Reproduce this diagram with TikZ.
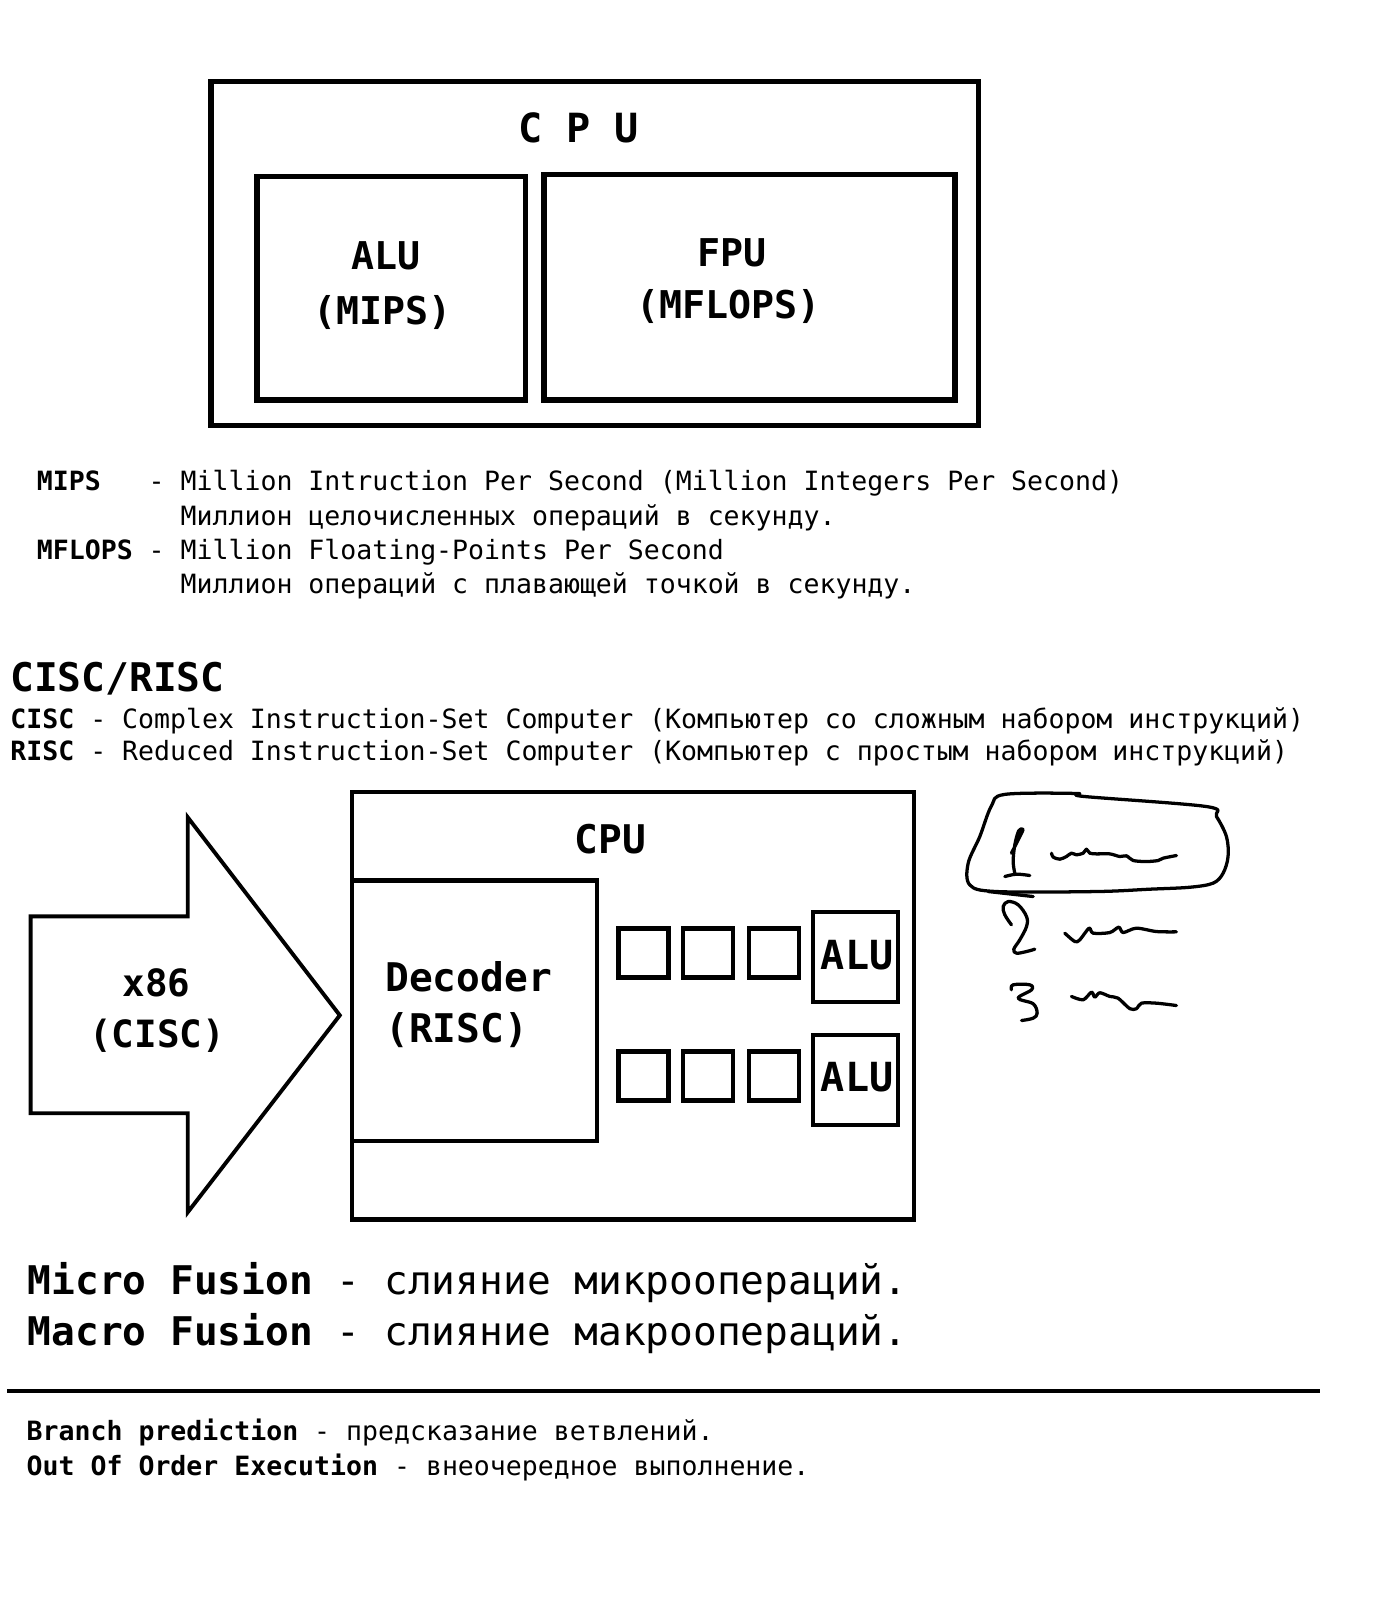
\documentclass[tikz,border=0pt]{standalone}
\usepackage{fontspec}
\newfontfamily\dmono{DejaVu Sans Mono}
\begin{document}
\frenchspacing
\begin{tikzpicture}[x=1pt,y=-1pt,
  thickbox/.style={draw, line width=5.5pt, inner sep=0pt},
  midbox/.style={draw, line width=4.3pt, inner sep=0pt},
  sq/.style={draw, line width=4.3pt, inner sep=0pt, minimum width=49pt, minimum height=48pt},
  alubox/.style={draw, line width=4.3pt, inner sep=0pt, minimum width=83pt, minimum height=88pt},
  hand/.style={line width=3.2pt, line cap=round, line join=round},
  t26/.style={inner sep=0pt, anchor=base west, font=\dmono\fontsize{26}{30}\selectfont},
  t38/.style={inner sep=0pt, anchor=base west, font=\dmono\fontsize{38.7}{44}\selectfont},
  bigc/.style={inner sep=0pt, anchor=base, font=\dmono\bfseries\fontsize{37.5}{44}\selectfont},
  bigd/.style={inner sep=0pt, anchor=base, font=\dmono\bfseries\fontsize{38.7}{44}\selectfont},
]
\fill[white] (0,0) rectangle (1356,1568);
\useasboundingbox (0,0) rectangle (1356,1568);

% ---------- top CPU diagram ----------
\node[thickbox, minimum width=752pt, minimum height=337pt] (cpuA) at (583,248.5) {};
\node[bigc, font=\dmono\bfseries\fontsize{39.4}{44}\selectfont] (cpuAt) at (567,140) {C P U};
\node[thickbox, minimum width=263pt, minimum height=219pt] (alu) at (383.5,282.5) {};
\node[bigc] (alut) at (378.5,264) {ALU};
\node[bigc] (mips) at (375,318) {(MIPS)};
\node[thickbox, minimum width=403pt, minimum height=221pt] (fpu) at (734.5,281.5) {};
\node[bigc] (fput) at (717,261) {FPU};
\node[bigc] (mflops) at (714,312) {(MFLOPS)};

% ---------- definitions ----------
\node[t26] (l1) at (36,481) {{\bfseries MIPS}~~~- Million Intruction Per Second (Million Integers Per Second)};
\node[t26] (l2) at (176.9,515) {Миллион целочисленных операций в секунду.};
\node[t26] (l3) at (36,548.5) {{\bfseries MFLOPS} - Million Floating-Points Per Second};
\node[t26] (l4) at (176.9,582) {Миллион операций с плавающей точкой в секунду.};

\node[t38] (hd) at (10,678) {\bfseries CISC/RISC};
\node[t26] (cisc) at (10,714) {{\bfseries CISC} - Complex Instruction-Set Computer (Компьютер со сложным набором инструкций)};
\node[t26] (risc) at (10,745) {{\bfseries RISC} - Reduced Instruction-Set Computer (Компьютер с простым набором инструкций)};

% ---------- x86 arrow ----------
\draw[line width=3.8pt, line join=miter] (30,898) -- (184,898) -- (184,801) -- (333,995) -- (184,1188) -- (184,1091) -- (30,1091) -- cycle;
\node[bigc, font=\dmono\bfseries\fontsize{36.8}{44}\selectfont] (x86) at (153.5,976.5) {x86};
\node[bigc, font=\dmono\bfseries\fontsize{36.8}{44}\selectfont] (cisct) at (154,1027) {(CISC)};

% ---------- CPU with decoder ----------
\node[midbox, minimum width=551pt, minimum height=419pt] (cpuB) at (620.5,985.5) {};
\node[bigd] (cpuBt) at (598,836) {CPU};
\node[midbox, minimum width=240pt, minimum height=255pt] (dec) at (465,990.5) {};
\node[t38] (dect) at (377.5,972) {\bfseries Decoder};
\node[t38] (risct) at (377.5,1022) {\bfseries (RISC)};

\node[sq] (q11) at (630.5,934) {};
\node[sq] (q12) at (694,934) {};
\node[sq] (q13) at (758.5,934) {};
\node[sq] (q21) at (630.5,1054.5) {};
\node[sq] (q22) at (694,1054.5) {};
\node[sq] (q23) at (758.5,1054.5) {};
\node[alubox] (alu1) at (838.5,938) {};
\node[alubox] (alu2) at (838.5,1058.5) {};
\node[bigd, font=\dmono\bfseries\fontsize{39.3}{44}\selectfont] (alu1t) at (840,950) {ALU};
\node[bigd, font=\dmono\bfseries\fontsize{39.3}{44}\selectfont] (alu2t) at (840,1070) {ALU};

% ---------- handwriting ----------
\draw[hand] plot[smooth cycle, tension=0.55] coordinates {
 (950.4,867.2) (948.8,846) (960.2,819.8) (971.5,790) (984.7,778.5) (1054.9,777.6)
 (1062,780.5) (1182.3,790.4) (1192.1,800.2) (1201.9,819.8) (1203.5,839.4)
 (1198.6,855.8) (1188.8,865.5) (1166,869.5) (1126.8,871.4) (1074.5,873.7) (976.5,873.7)};
\draw[hand] (968.4,873.7) -- (1012.5,878.6);
% 1
\draw[hand] plot[smooth, tension=0.6] coordinates {
 (991.2,836.1) (1001.1,816.5) (1002.2,812.6) (998.3,814.2) (994.5,828) (992.9,844.3) (994.5,855.7)};
\draw[hand] plot[smooth, tension=0.6] coordinates {(984.7,859) (996.2,856.7) (1009.2,858)};
\draw[hand] plot[smooth, tension=0.5] coordinates {
 (1030.5,836.1) (1032.1,840) (1038.6,842) (1045.1,839.4) (1050,836.1) (1054.9,837.7)
 (1061.5,836.1) (1064.7,832.2) (1068,836.1) (1074.5,836.8) (1087.6,836.8) (1097.4,839.4)
 (1103.9,838.7) (1110.5,843.3) (1123.5,844.3) (1135,843.3) (1139.9,841) (1152.9,838.4)};
% 2
\draw[hand] plot[smooth, tension=0.6] coordinates {
 (991.2,906.3) (984.7,896.5) (983.1,888.4) (988,883.5) (997.8,886.7) (1006,898.2)
 (1006,908) (999.4,921) (993.5,930.2) (996.2,934.1) (1006,932.5) (1014.1,930.2)};
\draw[hand] plot[smooth, tension=0.5] coordinates {
 (1043.5,914.5) (1053.3,922.7) (1058.2,921) (1067.3,909.6) (1071.3,914.5) (1087.6,913.9)
 (1096.4,908.6) (1100.7,913.9) (1113.7,909.6) (1133.3,912.9) (1152.9,913.2)};
% 3
\draw[hand] plot[smooth, tension=0.6] coordinates {
 (991.2,970) (992.9,965.1) (1009.2,965.1) (1010.9,970) (997.8,978.2) (1012.5,983.7)
 (1016.4,992.9) (1012.5,997.8) (1001.1,1000.1)};
\draw[hand] plot[smooth, tension=0.5] coordinates {
 (1050,976.5) (1061.5,979.8) (1069.6,972.3) (1072.9,977.2) (1077.8,972.9) (1087.6,976.5)
 (1095.7,978.2) (1107.2,988.5) (1113.7,988.5) (1118.6,983.1) (1133.3,983.1) (1152.9,985.4)};

% ---------- fusion ----------
\node[t38] (micro) at (27,1269) {{\bfseries Micro Fusion} - слияние микроопераций.};
\node[t38] (macro) at (27,1319) {{\bfseries Macro Fusion} - слияние макроопераций.};
\coordinate (ruleL) at (7,1363);
\coordinate (ruleR) at (1294,1363);
\draw[line width=4.5pt] (ruleL) -- (ruleR);
\node[t26] (bp) at (26,1411.5) {{\bfseries Branch prediction} - предсказание ветвлений.};
\node[t26] (ooo) at (26,1445.5) {{\bfseries Out Of Order Execution} - внеочередное выполнение.};
\end{tikzpicture}
\end{document}
